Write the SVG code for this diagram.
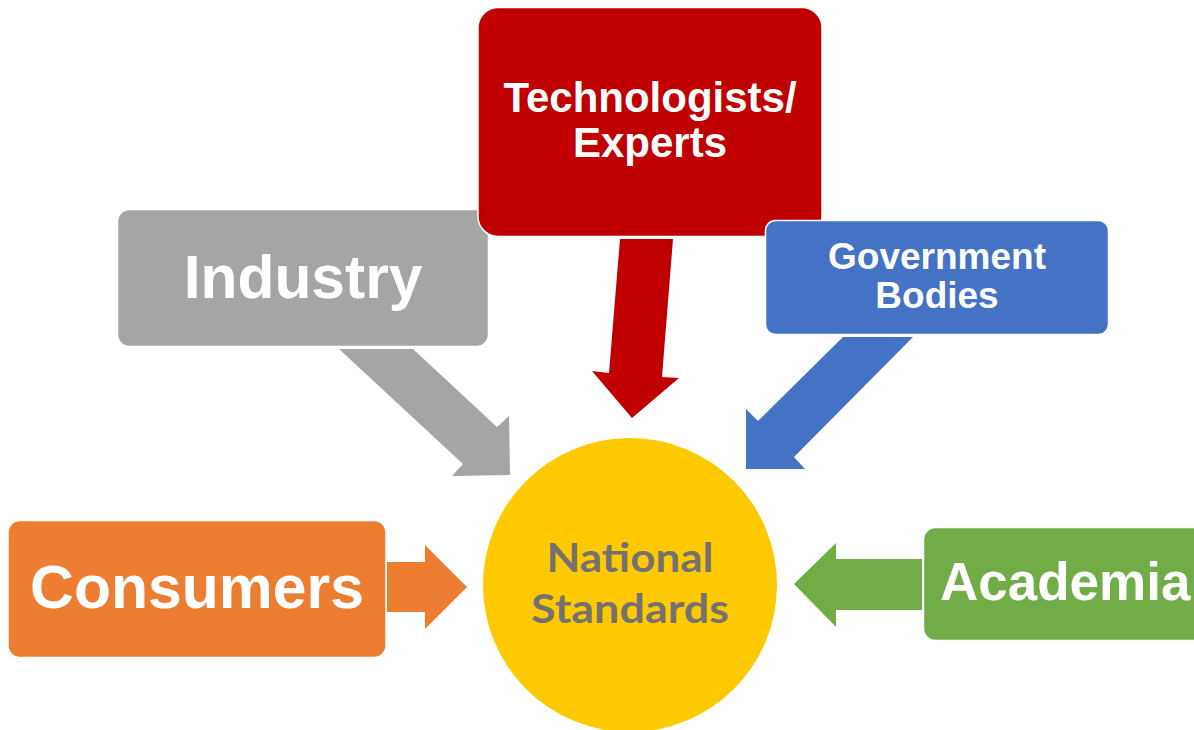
<svg xmlns="http://www.w3.org/2000/svg" width="1194" height="730" viewBox="0 0 1194 730">
  <style>
    .box { stroke: #ffffff; stroke-width: 1.5; }
    .lbl { font-family: "Liberation Sans", Arial, sans-serif; font-weight: bold; fill: #ffffff; text-anchor: middle; }
    .ctr { font-family: "Lato", "Open Sans", sans-serif; font-weight: bold; fill: #767171; text-anchor: middle; }
  </style>
  <rect width="1194" height="730" fill="#ffffff"/>
  <g id="connectors">
    <polygon points="339,349 413,349 497,427 509,416 510,475 452,476 463,464" fill="#A5A5A5"/>
    <polygon points="620,239 673,239 662,377 679,378 632,418 592,371 609,373" fill="#C00000"/>
    <polygon points="843,337 913,337 794,457 805,469 746,469 746,409 758,421" fill="#4472C4"/>
    <polygon points="387,562 425,562 425,545 467,587 425,629 425,612 387,612" fill="#ED7D31"/>
    <polygon points="922,559 836,559 836,543 794,584 836,627 836,610 922,610" fill="#70AD47"/>
  </g>
  <g id="node-industry">
    <rect class="box" x="117.5" y="209.5" width="371" height="137" rx="12" fill="#A5A5A5"/>
    <text class="lbl" x="303" y="298" font-size="60.5">Industry</text>
  </g>
  <g id="node-technologists">
    <rect class="box" x="478" y="7.5" width="344" height="229" rx="20" fill="#C00000"/>
    <text class="lbl" x="650" y="112" font-size="42">Technologists/</text>
    <text class="lbl" x="650" y="157" font-size="42">Experts</text>
  </g>
  <g id="node-government">
    <rect class="box" x="765.5" y="220.5" width="343" height="114" rx="10" fill="#4472C4"/>
    <text class="lbl" x="937" y="269" font-size="37">Government</text>
    <text class="lbl" x="937" y="308" font-size="37">Bodies</text>
  </g>
  <g id="node-consumers">
    <rect class="box" x="8" y="520.5" width="378" height="137" rx="12" fill="#ED7D31"/>
    <text class="lbl" x="197" y="608" font-size="60.7">Consumers</text>
  </g>
  <g id="node-academia">
    <rect class="box" x="923.5" y="527.5" width="300" height="113" rx="12" fill="#70AD47"/>
    <text class="lbl" x="940" y="600" font-size="53" style="text-anchor:start">Academia</text>
  </g>
  <g id="node-national-standards">
    <circle cx="630" cy="585" r="147" fill="#FFC900"/>
    <text class="ctr" x="630" y="572" font-size="41" textLength="167" lengthAdjust="spacingAndGlyphs">National</text>
    <text class="ctr" x="630" y="623" font-size="41" textLength="198" lengthAdjust="spacingAndGlyphs">Standards</text>
  </g>
</svg>
